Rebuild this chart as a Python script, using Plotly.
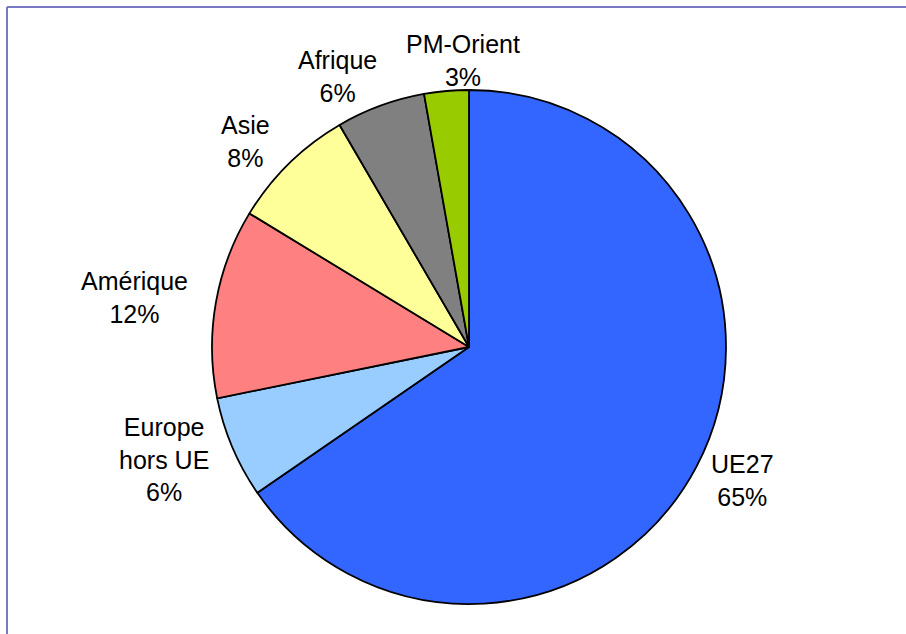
import math
import plotly.graph_objects as go

regions = ["UE27", "Europe<br>hors UE", "Amérique", "Asie", "Afrique", "PM-Orient"]
shares = [65.4, 6.4, 11.9, 7.9, 5.6, 2.8]
colors = ["#3366FF", "#99CCFF", "#FF8080", "#FFFF99", "#808080", "#99CC00"]

W, H = 906, 634
cx, cy, r = 469, 347, 257
lab_rx, lab_kx, lab_b = 279, 1.1, 288  # label placement around the pie (px)
FS = 25

fig = go.Figure(go.Pie(
    labels=regions,
    values=shares,
    sort=False,
    direction="clockwise",
    rotation=0,
    marker=dict(colors=colors, line=dict(color="black", width=1.8)),
    textinfo="none",
    hoverinfo="label+percent",
    domain=dict(x=[(cx - r) / W, (cx + r) / W], y=[(H - cy - r) / H, (H - cy + r) / H]),
    showlegend=False,
))

total = sum(shares)
labs = []
cum = 0.0
for lab, v in zip(regions, shares):
    mid = (cum + v / 2) / total * 2 * math.pi
    cum += v
    text = f"{lab}<br>{round(v / total * 100)}%"
    lines = text.split("<br>")
    w = max(len(l) for l in lines) * 0.55 * FS
    h = len(lines) * 1.3 * FS
    labs.append(dict(x=cx + (lab_rx + lab_kx * w / 2) * math.sin(mid),
                     y=cy - lab_b * math.cos(mid), w=w, h=h, text=text))

# simple pairwise separation of overlapping labels
for _ in range(20):
    for i in range(len(labs)):
        for j in range(i + 1, len(labs)):
            a, b = labs[i], labs[j]
            ox = (a["w"] + b["w"]) / 2 + 16 - abs(a["x"] - b["x"])
            oy = (a["h"] + b["h"]) / 2 - abs(a["y"] - b["y"])
            if ox > 0 and oy > 0:
                sgn = 1 if a["x"] >= b["x"] else -1
                a["x"] += sgn * ox / 2
                b["x"] -= sgn * ox / 2

annotations = [dict(
    x=l["x"] / W, y=(H - l["y"]) / H, xref="paper", yref="paper",
    text=l["text"], showarrow=False,
    xanchor="center", yanchor="middle", align="center",
    font=dict(family="Liberation Sans, Arial, sans-serif", size=FS, color="black"),
) for l in labs]

fig.update_layout(
    width=W, height=H,
    margin=dict(l=0, r=0, t=0, b=0),
    paper_bgcolor="white",
    plot_bgcolor="white",
    annotations=annotations,
    shapes=[
        dict(type="line", xref="paper", yref="paper", x0=7 / W, y0=1 - 7 / H, x1=1, y1=1 - 7 / H,
             line=dict(color="#7878C4", width=2)),
        dict(type="line", xref="paper", yref="paper", x0=7 / W, y0=1 - 7 / H, x1=7 / W, y1=0,
             line=dict(color="#7878C4", width=2)),
    ],
)

fig.write_html("out.html", config={"displayModeBar": False},
               post_script="document.body.style.margin='0';")
